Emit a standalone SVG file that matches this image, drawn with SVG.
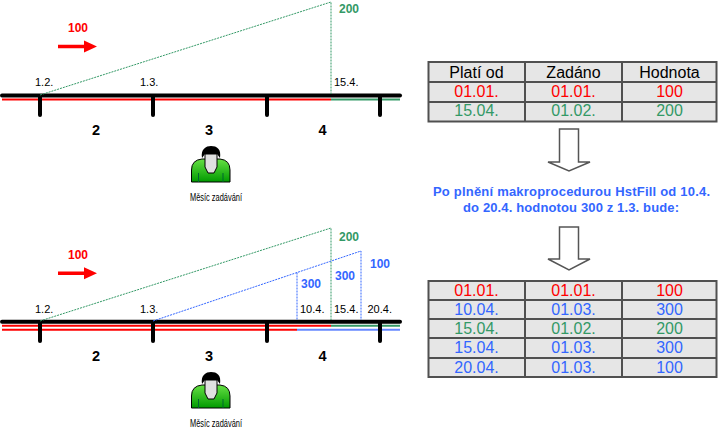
<svg xmlns="http://www.w3.org/2000/svg" width="718" height="433" viewBox="0 0 718 433">
<style>
.lbl{font-family:"Liberation Sans",Arial,sans-serif;font-size:11px;fill:#000}
.num{font-family:"Liberation Sans",Arial,sans-serif;font-size:14.5px;font-weight:bold;fill:#000;text-anchor:middle}
.val{font-family:"Liberation Sans",Arial,sans-serif;font-size:12px;font-weight:bold}
.tbl{font-family:"Liberation Sans",Arial,sans-serif;font-size:16px;text-anchor:middle}
.cap{font-family:"Liberation Sans",Arial,sans-serif;font-size:10.5px;fill:#000}
.mid{font-family:"Liberation Sans",Arial,sans-serif;font-size:13px;font-weight:bold;fill:#3366ff}
.r{fill:#ff0000}.g{fill:#339966}.b{fill:#3366ff}.k{fill:#000}
.axis{stroke:#000;stroke-width:4;stroke-linecap:round}
.tick{stroke:#000;stroke-width:4;stroke-linecap:round}
.dg{stroke:#339966;stroke-width:1;stroke-dasharray:2 1;fill:none}
.db{stroke:#3366ff;stroke-width:1;stroke-dasharray:2 1;fill:none}
.cell{fill:#e6e6e6;stroke:#505050;stroke-width:2}
.grid{stroke:#505050;stroke-width:2}
.blk{fill:#fff;stroke:#555;stroke-width:1.5}
</style>
<defs>
<linearGradient id="gr" x1="0" y1="0" x2="0" y2="1">
<stop offset="0" stop-color="#66e044"/>
<stop offset="1" stop-color="#009a00"/>
</linearGradient>
<g id="person">
<path d="M-19.5,36 L-19.5,24 Q-19.5,14 -9,13 L9,13 Q19,14 19,24 L19,36 Z" fill="url(#gr)" stroke="#000" stroke-width="1"/>
<path d="M-12.5,27 L-12.5,36 M12,27 L12,36" stroke="#063" stroke-width="1"/>
<path d="M-6,8 L6,8 L6,21 L3,27 L-3,27 L-6,21 Z" fill="#e0e0e0" stroke="#000" stroke-width="1"/>
<path d="M-9,12 C-10.5,3 -5,0 0,0 C6,0 10.5,3 9,12 L6,8 L-6,8 Z" fill="#000"/>
</g>
<path id="rarrow" d="M58,-1.7 L84,-1.7 L84,-6 L97,0 L84,6 L84,1.7 L58,1.7 Z" fill="#ff0000"/>
</defs>

<g id="connectors">
<line x1="2" y1="99.5" x2="331" y2="99.5" stroke="#ff0000" stroke-width="2"/>
<line x1="331" y1="99.5" x2="400" y2="99.5" stroke="#339966" stroke-width="2"/>
<line class="axis" x1="2" y1="95.5" x2="400" y2="95.5"/>
<line class="tick" x1="40" y1="96" x2="40" y2="115"/>
<line class="tick" x1="153" y1="96" x2="153" y2="115"/>
<line class="tick" x1="267" y1="96" x2="267" y2="115"/>
<line class="tick" x1="380" y1="96" x2="380" y2="115"/>
<path class="dg" d="M40,95 L331,2 L331,94"/>
<use href="#rarrow" x="0" y="46.5"/>

<line x1="2" y1="325.8" x2="331" y2="325.8" stroke="#ff0000" stroke-width="2"/>
<line x1="331" y1="325.8" x2="400" y2="325.8" stroke="#339966" stroke-width="2"/>
<line x1="2" y1="329.8" x2="297" y2="329.8" stroke="#ff0000" stroke-width="2"/>
<line x1="297" y1="329.8" x2="400" y2="329.8" stroke="#6688ff" stroke-width="2"/>
<line class="axis" x1="2" y1="321.7" x2="400" y2="321.7"/>
<line class="tick" x1="40" y1="322" x2="40" y2="341"/>
<line class="tick" x1="153" y1="322" x2="153" y2="341"/>
<line class="tick" x1="267" y1="322" x2="267" y2="341"/>
<line class="tick" x1="380" y1="322" x2="380" y2="341"/>
<path class="dg" d="M40,321 L331,228 L331,320"/>
<path class="db" d="M153,321 L361,251 L361,320"/>
<path class="db" d="M297,272.5 L297,320"/>
<use href="#rarrow" x="0" y="273.3"/>

<path class="blk" d="M559.5,129 L578.5,129 L578.5,162 L590,162 L569,171 L548,162 L559.5,162 Z"/>
<path class="blk" d="M559.5,227 L578.5,227 L578.5,259 L590,259 L569,270 L548,259 L559.5,259 Z"/>
</g>

<g id="top-labels">
<text class="val r" x="68" y="32">100</text>
<text class="val g" x="339" y="12.7">200</text>
<text class="lbl" x="35" y="86">1.2.</text>
<text class="lbl" x="140" y="86">1.3.</text>
<text class="lbl" x="334" y="86">15.4.</text>
<text class="num" x="96" y="135">2</text>
<text class="num" x="209" y="135">3</text>
<text class="num" x="322.5" y="135">4</text>
</g>

<g id="bottom-labels">
<text class="val r" x="68" y="259.3">100</text>
<text class="val g" x="339" y="240.7">200</text>
<text class="val b" x="301" y="287.7">300</text>
<text class="val b" x="335" y="280">300</text>
<text class="val b" x="370" y="268.3">100</text>
<text class="lbl" x="35" y="312.7">1.2.</text>
<text class="lbl" x="140" y="312.7">1.3.</text>
<text class="lbl" x="300" y="312.7">10.4.</text>
<text class="lbl" x="334" y="312.7">15.4.</text>
<text class="lbl" x="367.5" y="312.7">20.4.</text>
<text class="num" x="96" y="361">2</text>
<text class="num" x="209" y="361">3</text>
<text class="num" x="322.5" y="361">4</text>
</g>

<g id="person-top">
<use href="#person" x="211" y="146"/>
<text class="cap" x="190" y="200.5" textLength="52" lengthAdjust="spacingAndGlyphs">Měsíc zadávání</text>
</g>
<g id="person-bottom">
<use href="#person" x="211" y="372"/>
<text class="cap" x="190" y="426.5" textLength="52" lengthAdjust="spacingAndGlyphs">Měsíc zadávání</text>
</g>

<g id="table-top">
<rect class="cell" x="428.5" y="62" width="288" height="59.5"/>
<line class="grid" x1="525" y1="62" x2="525" y2="121.5"/>
<line class="grid" x1="622" y1="62" x2="622" y2="121.5"/>
<line class="grid" x1="428.5" y1="82" x2="716.5" y2="82"/>
<line class="grid" x1="428.5" y1="102" x2="716.5" y2="102"/>
<text class="tbl k" x="476.5" y="77.5">Platí od</text>
<text class="tbl k" x="573.5" y="77.5">Zadáno</text>
<text class="tbl k" x="669.5" y="77.5">Hodnota</text>
<text class="tbl r" x="476.5" y="96.5">01.01.</text>
<text class="tbl r" x="573.5" y="96.5">01.01.</text>
<text class="tbl r" x="669.5" y="96.5">100</text>
<text class="tbl g" x="476.5" y="115.5">15.04.</text>
<text class="tbl g" x="573.5" y="115.5">01.02.</text>
<text class="tbl g" x="669.5" y="115.5">200</text>
</g>

<g id="middle-text">
<text class="mid" x="433" y="195.5" textLength="277" lengthAdjust="spacing">Po plnění makroprocedurou HstFill od 10.4.</text>
<text class="mid" x="463" y="212" textLength="216" lengthAdjust="spacing">do 20.4. hodnotou 300 z 1.3. bude:</text>
</g>

<g id="table-bottom">
<rect class="cell" x="428.5" y="281" width="288" height="96"/>
<line class="grid" x1="525" y1="281" x2="525" y2="377"/>
<line class="grid" x1="622" y1="281" x2="622" y2="377"/>
<line class="grid" x1="428.5" y1="300" x2="716.5" y2="300"/>
<line class="grid" x1="428.5" y1="319" x2="716.5" y2="319"/>
<line class="grid" x1="428.5" y1="338" x2="716.5" y2="338"/>
<line class="grid" x1="428.5" y1="358" x2="716.5" y2="358"/>
<text class="tbl r" x="476.5" y="296">01.01.</text>
<text class="tbl r" x="573.5" y="296">01.01.</text>
<text class="tbl r" x="669.5" y="296">100</text>
<text class="tbl b" x="476.5" y="315">10.04.</text>
<text class="tbl b" x="573.5" y="315">01.03.</text>
<text class="tbl b" x="669.5" y="315">300</text>
<text class="tbl g" x="476.5" y="334">15.04.</text>
<text class="tbl g" x="573.5" y="334">01.02.</text>
<text class="tbl g" x="669.5" y="334">200</text>
<text class="tbl b" x="476.5" y="353">15.04.</text>
<text class="tbl b" x="573.5" y="353">01.03.</text>
<text class="tbl b" x="669.5" y="353">300</text>
<text class="tbl b" x="476.5" y="372.5">20.04.</text>
<text class="tbl b" x="573.5" y="372.5">01.03.</text>
<text class="tbl b" x="669.5" y="372.5">100</text>
</g>
</svg>
